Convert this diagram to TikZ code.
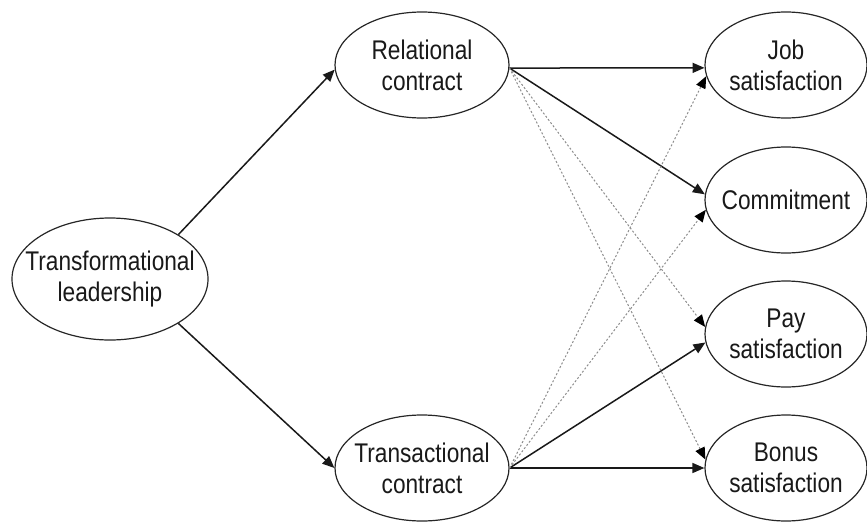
\documentclass[tikz,border=0pt]{standalone}
\usepackage{fontspec}
\setmainfont[FakeStretch=0.84]{Liberation Sans}
\usetikzlibrary{shapes.geometric,arrows.meta}
\begin{document}
\begin{tikzpicture}[x=1pt,y=-1pt,
  oval/.style={ellipse,draw=black!85,line width=1.2pt,inner xsep=-40pt,inner ysep=0pt,align=center,
    font=\fontsize{27}{31}\selectfont,text=black!90},
  mid/.style={oval,minimum width=174pt,minimum height=106pt},
  outcome/.style={oval,minimum width=162pt,minimum height=106pt},
  link/.style={line width=1.5pt,draw=black!90,-{Triangle[length=12pt,width=10pt]}},
  weak/.style={line width=1pt,draw=black!45,dash pattern=on 2pt off 2pt,
    -{Triangle[length=12pt,width=10pt,color=black]}}
]
\useasboundingbox (0,0) rectangle (867,522);

% constructs
\node[oval,minimum width=196pt,minimum height=122pt] (tl) at (110,279) {Transformational\\leadership};
\node[mid] (rc) at (422,65) {Relational\\contract};
\node[mid] (tc) at (422,468) {Transactional\\contract};
\node[outcome] (job) at (786,65) {Job\\satisfaction};
\node[outcome] (com) at (786,200) {Commitment};
\node[outcome] (pay) at (786,334) {Pay\\satisfaction};
\node[outcome] (bon) at (786,468) {Bonus\\satisfaction};

% leadership to contracts
\draw[link] (tl.33) -- (rc.183);
\draw[link] (tl.-33) -- (tc.180);

% significant paths
\draw[link] (rc.-2) -- (job.182);
\draw[link] (rc.-2) -- (com.176);
\draw[link] (tc.east) -- (pay.186);
\draw[link] (tc.east) -- (bon.180);

% non-significant paths
\draw[weak] (rc.-2) -- (pay.175);
\draw[weak] (rc.-2) -- (bon.174);
\draw[weak] (tc.east) -- (job.188);
\draw[weak] (tc.east) -- (com.187);
\end{tikzpicture}
\end{document}
